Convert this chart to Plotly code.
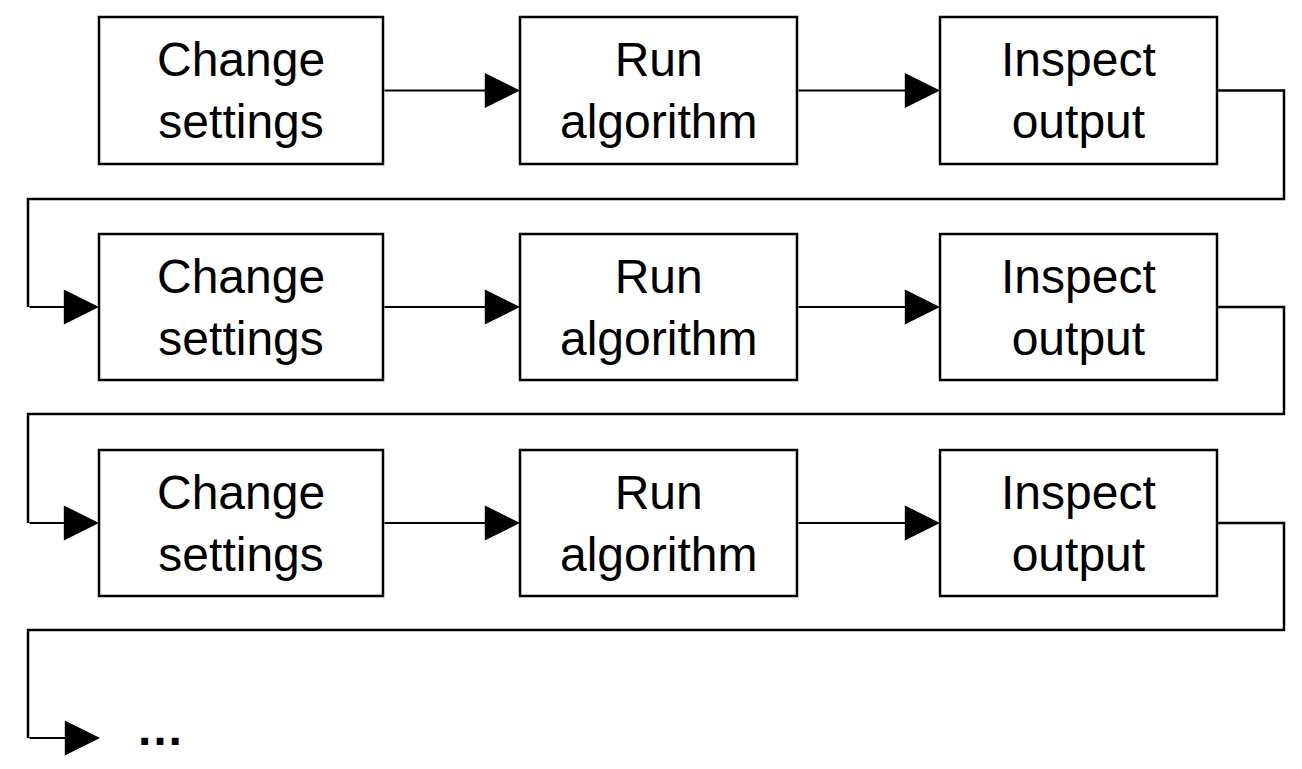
import plotly.graph_objects as go

labels = ["Change<br>settings", "Run<br>algorithm", "Inspect<br>output"]
col_left = [99, 520, 940]
col_right = [383, 797, 1217]
row_top = [17, 234, 450]
row_bottom = [164, 380, 596]
loop_x = [1284, 28]
loop_y = [199, 414, 630]
end_y = 738

fig = go.Figure()
line = dict(color="black", width=2.5)
arrow = dict(showarrow=True, arrowhead=2, arrowsize=3.2, arrowwidth=2.2,
             arrowcolor="black", axref="x", ayref="y", xref="x", yref="y", text="")

for r in range(3):
    cy = (row_top[r] + row_bottom[r]) / 2
    for c in range(3):
        fig.add_shape(type="rect", x0=col_left[c], x1=col_right[c], y0=row_top[r], y1=row_bottom[r],
                      line=line, fillcolor="white")
        fig.add_annotation(x=(col_left[c] + col_right[c]) / 2, y=cy, text=labels[c], showarrow=False,
                           font=dict(family="Liberation Sans, Arial", size=48, color="black"))
        if c < 2:
            fig.add_annotation(x=col_left[c + 1], y=cy, ax=col_right[c], ay=cy, **arrow)
    # connector to next row
    ny = (row_top[r + 1] + row_bottom[r + 1]) / 2 if r < 2 else end_y
    tip = col_left[0] if r < 2 else 100
    fig.add_trace(go.Scatter(x=[col_right[2], loop_x[0], loop_x[0], loop_x[1], loop_x[1]],
                             y=[cy, cy, loop_y[r], loop_y[r], ny], mode="lines",
                             line=dict(color="black", width=2.5), hoverinfo="skip"))
    fig.add_annotation(x=tip, y=ny, ax=loop_x[1], ay=ny, **arrow)

fig.add_annotation(x=160, y=728, text="<b>…</b>", showarrow=False,
                   font=dict(family="Liberation Sans, Arial", size=48, color="black"))

fig.update_layout(width=1302, height=769, margin=dict(l=0, r=0, t=0, b=0),
                  plot_bgcolor="white", paper_bgcolor="white", showlegend=False,
                  xaxis=dict(range=[8, 1310], visible=False, fixedrange=True),
                  yaxis=dict(range=[777, 8], visible=False, fixedrange=True))
fig.write_html("out.html")
